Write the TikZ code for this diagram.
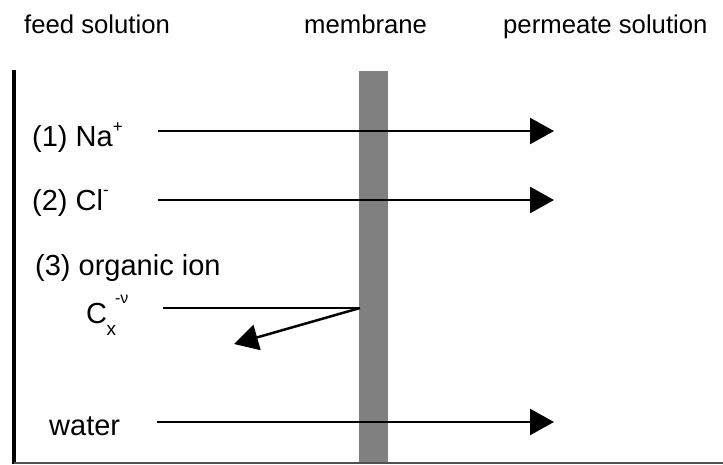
\documentclass[tikz,border=0pt]{standalone}
\usepackage{fontspec}
\setmainfont{Liberation Sans}
\usetikzlibrary{arrows.meta}
\begin{document}
\begin{tikzpicture}[x=1pt,y=-1pt,
  header/.style={anchor=base west,inner sep=0pt,font=\fontsize{25.7}{30}\selectfont},
  lbl/.style={anchor=base west,inner sep=0pt,font=\fontsize{29}{33}\selectfont},
  flow/.style={line width=2.5pt,-{Triangle[length=24pt,width=26pt]}},
  plain/.style={line width=2.5pt}]
\useasboundingbox (0,0) rectangle (723,464);
\fill[white] (0,0) rectangle (723,464);
% headers
\node[header] (hfeed) at (24,33) {feed solution};
\node[header] (hmem) at (304,33) {membrane};
\node[header] (hperm) at (503,33) {permeate solution};
% membrane
\fill[fill={rgb,255:red,128;green,128;blue,128}] (359,71) rectangle (388,464);
% walls
\draw[line width=4pt] (14,70) -- (14,464);
\draw[line width=1.5pt,color={rgb,255:red,80;green,80;blue,80}] (14,463) -- (723,463);
% labels
\node[lbl] (na) at (32,146) {(1) Na\raisebox{0.48em}{\fontsize{17}{17}\selectfont +}};
\node[lbl] (cl) at (32,210) {(2) Cl\raisebox{0.5em}{\fontsize{17}{17}\selectfont -}};
\node[lbl] (org) at (35,275) {(3) organic ion};
\node[lbl] (cx) at (86,323) {C\kern-0.5pt\raisebox{-0.42em}{\fontsize{19}{19}\selectfont x}\kern-1pt\raisebox{0.66em}{\fontsize{16}{16}\selectfont -ν}};
\node[lbl] (water) at (49,435) {water};
% arrow endpoints
\coordinate (naA) at (158,131); \coordinate (naB) at (554,131);
\coordinate (clA) at (158,200); \coordinate (clB) at (554,200);
\coordinate (wA) at (157,422); \coordinate (wB) at (554,422);
\coordinate (oA) at (163,308); \coordinate (oB) at (360,308);
\coordinate (oC) at (234,344);
\draw[flow] (naA) -- (naB);
\draw[flow] (clA) -- (clB);
\draw[flow] (wA) -- (wB);
\draw[plain] (oA) -- (oB);
\draw[flow] (oB) -- (oC);
\end{tikzpicture}
\end{document}
